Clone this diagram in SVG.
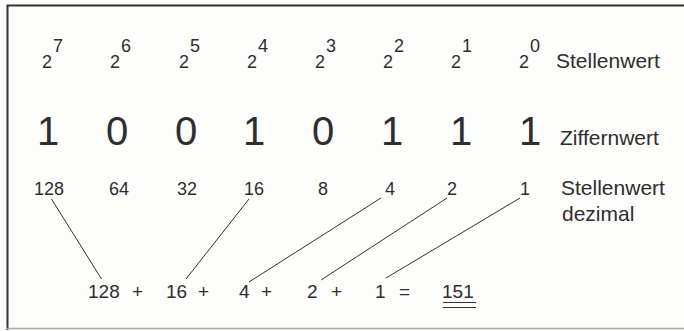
<svg xmlns="http://www.w3.org/2000/svg" width="684" height="331" viewBox="0 0 684 331">
<style>
text{font-family:"Liberation Sans",Arial,sans-serif;fill:#2e2e2e}
.p{font-size:18px}
.d{font-size:40px;text-anchor:middle}
.n{font-size:18px;text-anchor:middle}
.l{font-size:21px}
.s{font-size:19px}
.c{stroke:#333;stroke-width:1;fill:none}
</style>
<rect width="684" height="331" fill="#fdfdfb"/>
<g id="frame">
<path d="M7.5 330 V5.5 H684" fill="none" stroke="#333" stroke-width="2"/>
<line x1="7" y1="328.5" x2="684" y2="328.5" stroke="#aaa" stroke-width="1.5"/>
</g>
<g id="powers">
<text class="p" x="42" y="68">2</text><text class="p" x="53" y="52">7</text>
<text class="p" x="110" y="68">2</text><text class="p" x="121" y="52">6</text>
<text class="p" x="179" y="68">2</text><text class="p" x="190" y="52">5</text>
<text class="p" x="247" y="68">2</text><text class="p" x="258" y="52">4</text>
<text class="p" x="315" y="68">2</text><text class="p" x="326" y="52">3</text>
<text class="p" x="383" y="68">2</text><text class="p" x="394" y="52">2</text>
<text class="p" x="451" y="68">2</text><text class="p" x="462" y="52">1</text>
<text class="p" x="519" y="68">2</text><text class="p" x="530" y="52">0</text>
<text class="l" x="556" y="68">Stellenwert</text>
</g>
<g id="digits">
<text class="d" x="48" y="145">1</text>
<text class="d" x="117" y="145">0</text>
<text class="d" x="186" y="145">0</text>
<text class="d" x="254" y="145">1</text>
<text class="d" x="323" y="145">0</text>
<text class="d" x="392" y="145">1</text>
<text class="d" x="461" y="145">1</text>
<text class="d" x="530" y="145">1</text>
<text class="l" x="560" y="145">Ziffernwert</text>
</g>
<g id="decimal">
<text class="n" x="49" y="195">128</text>
<text class="n" x="119" y="195">64</text>
<text class="n" x="187" y="195">32</text>
<text class="n" x="254" y="195">16</text>
<text class="n" x="323" y="195">8</text>
<text class="n" x="390" y="195">4</text>
<text class="n" x="452" y="195">2</text>
<text class="n" x="525" y="195">1</text>
<text class="l" x="561" y="195">Stellenwert</text>
<text class="l" x="562" y="221">dezimal</text>
</g>
<g id="connectors">
<line class="c" x1="51.5" y1="199" x2="101.5" y2="279"/>
<line class="c" x1="249" y1="199" x2="186" y2="279"/>
<line class="c" x1="381" y1="198" x2="249" y2="282"/>
<line class="c" x1="447" y1="198" x2="321" y2="280"/>
<line class="c" x1="520" y1="198" x2="386" y2="278"/>
</g>
<g id="sum">
<text class="s" x="88" y="298">128</text><text class="s" x="132" y="298">+</text>
<text class="s" x="166" y="298">16</text><text class="s" x="198" y="298">+</text>
<text class="s" x="239" y="298">4</text><text class="s" x="261" y="298">+</text>
<text class="s" x="307" y="298">2</text><text class="s" x="331" y="298">+</text>
<text class="s" x="375" y="298">1</text><text class="s" x="399" y="298">=</text>
<text class="s" x="442" y="298">151</text>
<line x1="443" y1="302.5" x2="476" y2="302.5" stroke="#333" stroke-width="1"/>
<line x1="443" y1="307.5" x2="476" y2="307.5" stroke="#333" stroke-width="1"/>
</g>
</svg>
